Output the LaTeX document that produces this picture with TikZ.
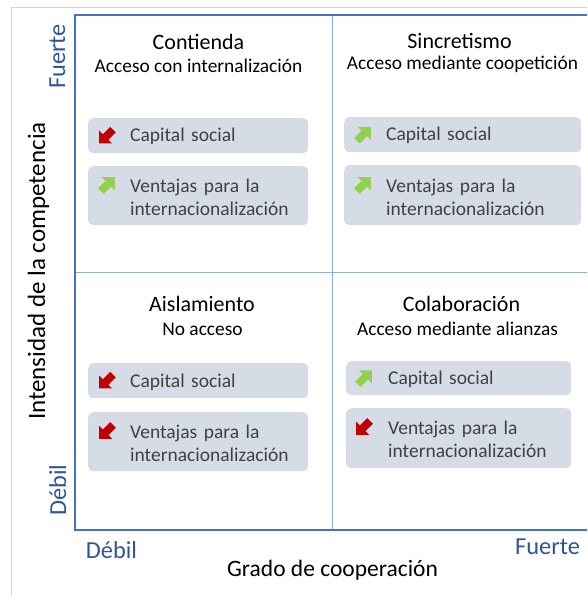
\documentclass[tikz,border=0pt]{standalone}
\usepackage{fontspec}
\setmainfont{Carlito}
\definecolor{outerblue}{HTML}{4472C4}
\definecolor{lightblue}{HTML}{8FAADC}
\definecolor{axisblue}{HTML}{2F5597}
\definecolor{boxfill}{HTML}{D6DCE5}
\definecolor{boxtext}{HTML}{404040}
\definecolor{framegray}{HTML}{D4D4D4}
\definecolor{upgreen}{HTML}{92D050}
\definecolor{downred}{HTML}{C00000}
\begin{document}
\begin{tikzpicture}[x=1pt,y=-1pt,
  outerframe/.style={draw=outerblue, line width=1.3pt},
  divider/.style={draw=lightblue, line width=1pt},
  pageframe/.style={draw=framegray, line width=0.8pt},
  bx/.style={rectangle, rounded corners=5pt, fill=boxfill, draw=none, inner sep=0pt, anchor=north west},
  bt/.style={text=boxtext, font=\fontsize{19.5}{23}\selectfont, inner sep=0pt, text width=175pt, align=left, anchor=base west},
  ttl/.style={font=\fontsize{22}{26}\selectfont, inner sep=0pt, anchor=base},
  subttl/.style={font=\fontsize{19.4}{23}\selectfont, inner sep=0pt, anchor=base},
  axlbl/.style={text=axisblue, font=\fontsize{24.4}{28}\selectfont, inner sep=0pt, anchor=base},
  axttl/.style={font=\fontsize{24}{28}\selectfont, inner sep=0pt, anchor=base},
  uparrow/.pic={
    \fill[upgreen, rotate=45, scale=1.22] (-7pt,-3.2pt) -- (1.5pt,-3.2pt) -- (1.5pt,-7.5pt) -- (9pt,0pt)
      -- (1.5pt,7.5pt) -- (1.5pt,3.2pt) -- (-7pt,3.2pt) -- cycle;
  },
  downarrow/.pic={
    \fill[downred, rotate=225, scale=1.22] (-7pt,-3.2pt) -- (1.5pt,-3.2pt) -- (1.5pt,-7.5pt) -- (9pt,0pt)
      -- (1.5pt,7.5pt) -- (1.5pt,3.2pt) -- (-7pt,3.2pt) -- cycle;
  }
]
\clip (0,0) rectangle (587,596);
\useasboundingbox (0,0) rectangle (587,596);

% page frame (cut off on the right and at the bottom)
\draw[pageframe] (11.5,600) -- (11.5,7) -- (600,7);

% quadrant grid
\draw[divider] (332,15) -- (332,530);
\draw[divider] (75,272) -- (600,272);
\draw[outerframe] (75,15) rectangle (600,530);

% titles
\node[ttl] (tlt) at (198.5,50) {Contienda};
\node[subttl] (tls) at (198.5,73) {Acceso con internalización};
\node[ttl] (trt) at (459.5,49) {Sincretismo};
\node[subttl] (trs) at (462.5,70) {Acceso mediante coopetición};
\node[ttl] (blt) at (202,311) {Aislamiento};
\node[subttl] (bls) at (202.5,335) {No acceso};
\node[ttl] (brt) at (461.5,311) {Colaboración};
\node[subttl] (brs) at (457.5,335) {Acceso mediante alianzas};

% boxes
\node[bx, minimum width=220pt, minimum height=35pt] (tl1) at (88,118) {};
\node[bx, minimum width=220pt, minimum height=59pt] (tl2) at (88,166) {};
\node[bx, minimum width=237pt, minimum height=35pt] (tr1) at (344,117) {};
\node[bx, minimum width=237pt, minimum height=60pt] (tr2) at (344,165) {};
\node[bx, minimum width=220pt, minimum height=35pt] (bl1) at (88,363) {};
\node[bx, minimum width=220pt, minimum height=59pt] (bl2) at (88,412) {};
\node[bx, minimum width=225pt, minimum height=34pt] (br1) at (346,361) {};
\node[bx, minimum width=225pt, minimum height=60pt] (br2) at (346,408) {};

% box texts
\node[bt] (tl1t) at ([xshift=42pt,yshift=-6.3pt]tl1.west) {Capital social};
\node[bt] (tl2t) at ([xshift=42pt,yshift=-26pt]tl2.north west) {Ventajas para la\\internacionalización};
\node[bt] (tr1t) at ([xshift=42pt,yshift=-6.3pt]tr1.west) {Capital social};
\node[bt] (tr2t) at ([xshift=42pt,yshift=-27pt]tr2.north west) {Ventajas para la\\internacionalización};
\node[bt] (bl1t) at ([xshift=42pt,yshift=-6.3pt]bl1.west) {Capital social};
\node[bt] (bl2t) at ([xshift=42pt,yshift=-26pt]bl2.north west) {Ventajas para la\\internacionalización};
\node[bt] (br1t) at ([xshift=42pt,yshift=-6.3pt]br1.west) {Capital social};
\node[bt] (br2t) at ([xshift=42pt,yshift=-26pt]br2.north west) {Ventajas para la\\internacionalización};

% trend arrows
\pic at ([xshift=19pt]tl1.west) {downarrow};
\pic at ([xshift=19pt,yshift=-19pt]tl2.north west) {uparrow};
\pic at ([xshift=19pt]tr1.west) {uparrow};
\pic at ([xshift=19pt,yshift=-20pt]tr2.north west) {uparrow};
\pic at ([xshift=19pt]bl1.west) {downarrow};
\pic at ([xshift=19pt,yshift=-19pt]bl2.north west) {downarrow};
\pic at ([xshift=18pt]br1.west) {uparrow};
\pic at ([xshift=18pt,yshift=-19pt]br2.north west) {downarrow};

% axes labels
\node[axttl, rotate=90, font=\fontsize{25}{28}\selectfont] (yttl) at (45,271) {Intensidad de la competencia};
\node[axlbl, rotate=90] (yhi) at (65,56.5) {Fuerte};
\node[axlbl, rotate=90] (ylo) at (66,490) {Débil};
\node[axlbl] (xlo) at (111.5,558) {Débil};
\node[axlbl] (xhi) at (547.5,554) {Fuerte};
\node[axttl, font=\fontsize{23.5}{28}\selectfont] (xttl) at (332.5,576) {Grado de cooperación};
\end{tikzpicture}
\end{document}
